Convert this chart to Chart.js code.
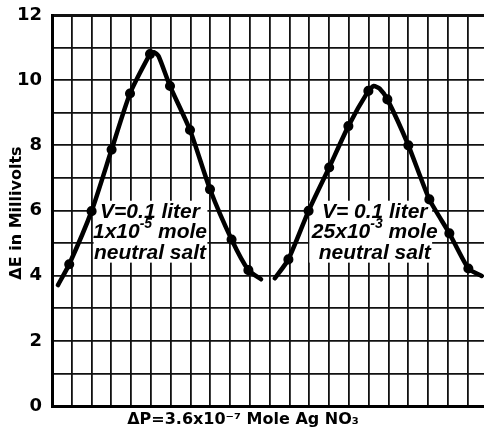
<!DOCTYPE html>
<html>
<head>
<meta charset="utf-8">
<script src="https://cdn.jsdelivr.net/npm/chart.js@4/dist/chart.umd.min.js"></script>
<style>
  html, body { margin: 0; padding: 0; background: #fff; }
  #wrap { width: 484px; height: 430px; }
</style>
</head>
<body>
<div id="wrap"><canvas id="chart"></canvas></div>
<script>
// Potential-jump peaks for two salt concentrations.
const xMax = 21.82;
const yTicks = [0, 2, 4, 6, 8, 10, 12];

const lowSaltX = [0.3, 0.87, 2.0, 3.01, 3.94, 4.95, 5.15, 5.38, 5.96, 6.97, 7.98, 9.07, 9.92, 10.56];
const lowSaltY = [3.71, 4.35, 5.98, 7.87, 9.59, 10.8, 10.86, 10.74, 9.82, 8.47, 6.65, 5.11, 4.17, 3.89];
const lowSaltMarked = [0, 1, 1, 1, 1, 1, 0, 0, 1, 1, 1, 1, 1, 0];

const highSaltX = [11.26, 11.94, 12.96, 14.0, 14.97, 15.98, 16.25, 16.55, 16.94, 18.0, 19.06, 20.07, 21.03, 21.7];
const highSaltY = [3.92, 4.5, 5.99, 7.32, 8.59, 9.67, 9.82, 9.74, 9.41, 8.0, 6.34, 5.3, 4.22, 3.99];
const highSaltMarked = [0, 1, 1, 1, 1, 1, 0, 0, 1, 1, 1, 1, 1, 0];

const notes = [
    { box: [2.1, 7.85, 6.3, 4.4], cx: 4.95, lines: [[['V=0.1 liter']], [['1x10'], ['-5', true], [' mole']], [['neutral salt']]] },
    { box: [13.0, 19.2, 6.3, 4.4], cx: 16.3, lines: [[['V= 0.1 liter']], [['25x10'], ['-3', true], [' mole']], [['neutral salt']]] }
];

const toPoints = (xs, ys) => xs.map((x, i) => ({ x, y: ys[i] }));

function curve(xs, ys, marked) {
    return {
        data: toPoints(xs, ys),
        showLine: true,
        borderColor: '#000',
        backgroundColor: '#000',
        borderWidth: 4.5,
        borderCapStyle: 'round',
        borderJoinStyle: 'round',
        tension: 0.2,
        pointRadius: (c) => marked[c.dataIndex] ? 2.8 : 0,
        pointHoverRadius: 0
    };
}

const noteFont = 'italic bold 21px "Liberation Sans", sans-serif';
const supFont = 'italic bold 14px "Liberation Sans", sans-serif';

function drawRuns(ctx, runs, cx, y) {
    let total = 0;
    runs.forEach(([t, sup]) => { ctx.font = sup ? supFont : noteFont; total += ctx.measureText(t).width; });
    let x = cx - total / 2;
    runs.forEach(([t, sup]) => {
        ctx.font = sup ? supFont : noteFont;
        ctx.fillText(t, x, sup ? y - 8 : y);
        x += ctx.measureText(t).width;
    });
}

const paperPlugin = {
    id: 'paper',
    beforeDatasetsDraw(chart) {
        const { ctx, scales: { x, y } } = chart;
        ctx.save();
        ctx.fillStyle = '#fff';
        notes.forEach((n) => {
            const [x0, x1, y0, y1] = n.box;
            ctx.fillRect(x.getPixelForValue(x0), y.getPixelForValue(y0),
                x.getPixelForValue(x1) - x.getPixelForValue(x0), y.getPixelForValue(y1) - y.getPixelForValue(y0));
        });
        ctx.restore();
    },
    afterDatasetsDraw(chart) {
        const { ctx, scales: { x, y } } = chart;
        ctx.save();
        ctx.fillStyle = '#000';
        ctx.textBaseline = 'middle';
        ctx.textAlign = 'left';
        notes.forEach((n) => {
            const cx = x.getPixelForValue(n.cx);
            n.lines.forEach((runs, i) => drawRuns(ctx, runs, cx, y.getPixelForValue(n.box[2]) + 11 + i * 20.5));
        });

        ctx.font = 'bold 16px "DejaVu Sans", sans-serif';
        ctx.textAlign = 'center';
        ctx.fillText('ΔP=3.6x10⁻⁷ Mole Ag NO₃', 243, 420);

        ctx.translate(17, 213);
        ctx.rotate(-Math.PI / 2);
        ctx.font = 'bold 16px "DejaVu Sans", sans-serif';
        ctx.fillText('ΔE in Millivolts', 0, 0);
        ctx.restore();
    }
};

new Chart(document.getElementById('chart'), {
    type: 'scatter',
    data: { datasets: [curve(lowSaltX, lowSaltY, lowSaltMarked), curve(highSaltX, highSaltY, highSaltMarked)] },
    options: {
        responsive: true,
        maintainAspectRatio: false,
        animation: false,
        layout: { padding: { top: 15, right: 0, bottom: 0, left: 0 } },
        plugins: { legend: { display: false }, tooltip: { enabled: false } },
        scales: {
            x: {
                type: 'linear', min: 0, max: xMax,
                ticks: { display: false, stepSize: 1, includeBounds: false },
                grid: { color: '#111', lineWidth: (c) => c.tick && c.tick.value === 0 ? 3 : 1.8, drawTicks: false },
                border: { color: '#000', width: 3 },
                afterFit: (s) => { s.height = 24; }
            },
            y: {
                min: 0, max: 12,
                ticks: {
                    stepSize: 1, padding: 10, color: '#000',
                    font: { family: 'DejaVu Sans', weight: 'bold', size: 18 },
                    callback: (v) => yTicks.includes(v) ? String(v) : ''
                },
                grid: { color: '#111', lineWidth: (c) => c.tick && (c.tick.value === 0 || c.tick.value === 12) ? 3 : 1.8, drawTicks: false },
                border: { color: '#000', width: 3 },
                afterFit: (s) => { s.width = 52; s.paddingTop = 0; s.paddingBottom = 0; }
            }
        }
    },
    plugins: [paperPlugin]
});
</script>
</body>
</html>
